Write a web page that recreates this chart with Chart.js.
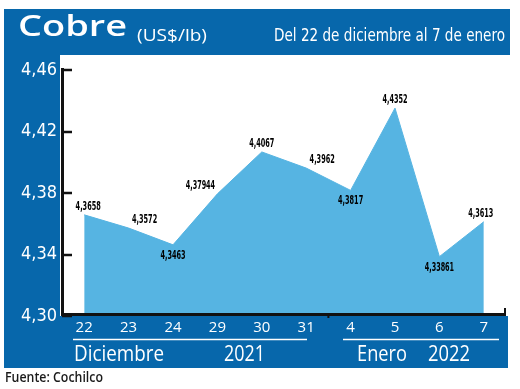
<!DOCTYPE html>
<html>
<head>
<meta charset="utf-8">
<script src="https://cdn.jsdelivr.net/npm/chart.js@4.4.1/dist/chart.umd.min.js"></script>
<style>
  html, body { margin: 0; padding: 0; background: #fff; }
  canvas { display: block; }
</style>
</head>
<body>
<canvas id="cobreChart" width="520" height="389"></canvas>
<script>
// Cobre (US$/lb), 22 dic 2021 - 7 ene 2022
const days = ['22', '23', '24', '29', '30', '31', '4', '5', '6', '7'];
const prices = [4.3658, 4.3572, 4.3463, 4.37944, 4.4067, 4.3962, 4.3817, 4.4352, 4.33861, 4.3613];
const yTicks = [4.30, 4.34, 4.38, 4.42, 4.46];
const months = ['Diciembre', 'Enero'];
const years = ['2021', '2022'];

const PANEL_BLUE = '#0767ab';
const AREA_BLUE = '#56b4e2';
const NARROW = '"Liberation Sans Narrow", "DejaVu Sans Condensed", sans-serif';
const SANS = '"Open Sans", "Liberation Sans", sans-serif';

const toComma = v => String(v).replace('.', ',');

// draw text squeezed (or stretched) to a given width
function fitText(c, text, x, y, width, align) {
  const w = c.measureText(text).width;
  let dx = 0;
  if (align === 'right') dx = -w;
  if (align === 'center') dx = -w / 2;
  c.save();
  c.translate(x, y);
  c.scale(width / w, 1);
  c.textAlign = 'left';
  c.fillText(text, dx, 0);
  c.restore();
}

const framePlugin = {
  id: 'frame',
  beforeDraw(chart) {
    const c = chart.ctx;
    c.save();
    c.fillStyle = '#fff';
    c.fillRect(0, 0, chart.width, chart.height);
    c.fillStyle = PANEL_BLUE;
    c.fillRect(4, 9, 506, 46);    // header
    c.fillRect(4, 55, 56, 262);   // left column
    c.fillRect(4, 316, 504, 52);  // bottom band
    c.restore();
  },
  afterDraw(chart) {
    const c = chart.ctx;
    const { left, right, bottom } = chart.chartArea;
    const xs = chart.scales.x;
    const ys = chart.scales.y;
    c.save();

    // axes
    c.strokeStyle = '#111';
    c.lineWidth = 3;
    c.beginPath();
    c.moveTo(left + 0.5, 68);
    c.lineTo(left + 0.5, bottom - 1.5);
    c.lineTo(right, bottom - 1.5);
    c.stroke();
    c.lineWidth = 2;
    c.beginPath();
    c.moveTo(right - 1, bottom - 1.5);
    c.lineTo(right - 1, bottom - 8);
    const mid = (xs.getPixelForValue(5) + xs.getPixelForValue(6)) / 2;
    c.moveTo(mid, bottom - 1);
    c.lineTo(mid, bottom + 2);
    c.stroke();
    c.lineWidth = 2.5;
    yTicks.forEach(v => {
      const y = Math.round(ys.getPixelForValue(v));
      c.beginPath();
      c.moveTo(left, y);
      c.lineTo(left + 10, y);
      c.stroke();
    });

    // value labels: below for local minima, nudged sideways on slopes
    const pts = chart.getDatasetMeta(0).data;
    c.fillStyle = '#000';
    c.font = 'bold 13px ' + NARROW;
    c.textBaseline = 'alphabetic';
    prices.forEach((v, i) => {
      const p = pts[i];
      const prev = i > 0 ? prices[i - 1] : null;
      const next = i < prices.length - 1 ? prices[i + 1] : null;
      let dx = 0, dy = -5;
      if (prev !== null && next !== null) {
        if (v < prev && v < next) dy = 14;
        else if (prev > v && v > next) dx = 16;
        else if (prev < v && v < next) dx = -17;
      } else {
        dx = i === 0 ? 4 : -3;
      }
      const txt = toComma(v);
      fitText(c, txt, p.x + dx, p.y + dy, txt.length * 4.2, 'center');
    });

    // header
    c.fillStyle = '#fff';
    c.font = '600 28px ' + SANS;
    fitText(c, 'Cobre', 18, 36, 109, 'left');
    c.font = '17px ' + SANS;
    fitText(c, '(US$/lb)', 137, 41, 70, 'left');
    c.font = '18px ' + NARROW;
    fitText(c, 'Del 22 de diciembre al 7 de enero', 505, 41, 231, 'right');

    // month / year groups
    c.strokeStyle = '#fff';
    c.lineWidth = 1.5;
    c.beginPath();
    c.moveTo(73, 339.5); c.lineTo(307, 339.5);
    c.moveTo(343, 339.5); c.lineTo(499, 339.5);
    c.stroke();
    c.font = '21px ' + SANS;
    fitText(c, months[0], 74, 361, 90, 'left');
    fitText(c, years[0], 224, 361, 41, 'left');
    fitText(c, months[1], 357, 361, 50, 'left');
    fitText(c, years[1], 428, 361, 42, 'left');

    // source
    c.fillStyle = '#1a1a1a';
    c.font = '600 14px ' + SANS;
    fitText(c, 'Fuente: Cochilco', 5, 382, 98, 'left');
    c.restore();
  }
};

const ctx = document.getElementById('cobreChart');
new Chart(ctx, {
  type: 'line',
  data: {
    labels: days,
    datasets: [{
      data: prices,
      fill: 'start',
      backgroundColor: AREA_BLUE,
      borderColor: AREA_BLUE,
      borderWidth: 1,
      pointRadius: 0,
      tension: 0,
    }],
  },
  options: {
    responsive: false,
    animation: false,
    devicePixelRatio: 1,
    layout: { padding: { top: 70, right: 14, bottom: 48, left: 0 } },
    plugins: { legend: { display: false }, tooltip: { enabled: false } },
    scales: {
      x: {
        offset: true,
        grid: { display: false, drawTicks: false },
        border: { display: false },
        ticks: {
          color: '#fff',
          font: { family: SANS, size: 15 },
          padding: 3,
          maxRotation: 0,
          autoSkip: false,
        },
        afterFit: s => { s.height = 25; },
      },
      y: {
        min: 4.30,
        max: 4.46,
        grid: { display: false, drawTicks: false },
        border: { display: false },
        afterBuildTicks: s => { s.ticks = yTicks.map(v => ({ value: v })); },
        ticks: {
          color: '#fff',
          font: { family: NARROW, size: 18 },
          padding: 5,
          callback: v => v.toFixed(2).replace('.', ','),
        },
        afterFit: s => { s.width = 62; },
      },
    },
  },
  plugins: [framePlugin],
});
</script>
</body>
</html>
